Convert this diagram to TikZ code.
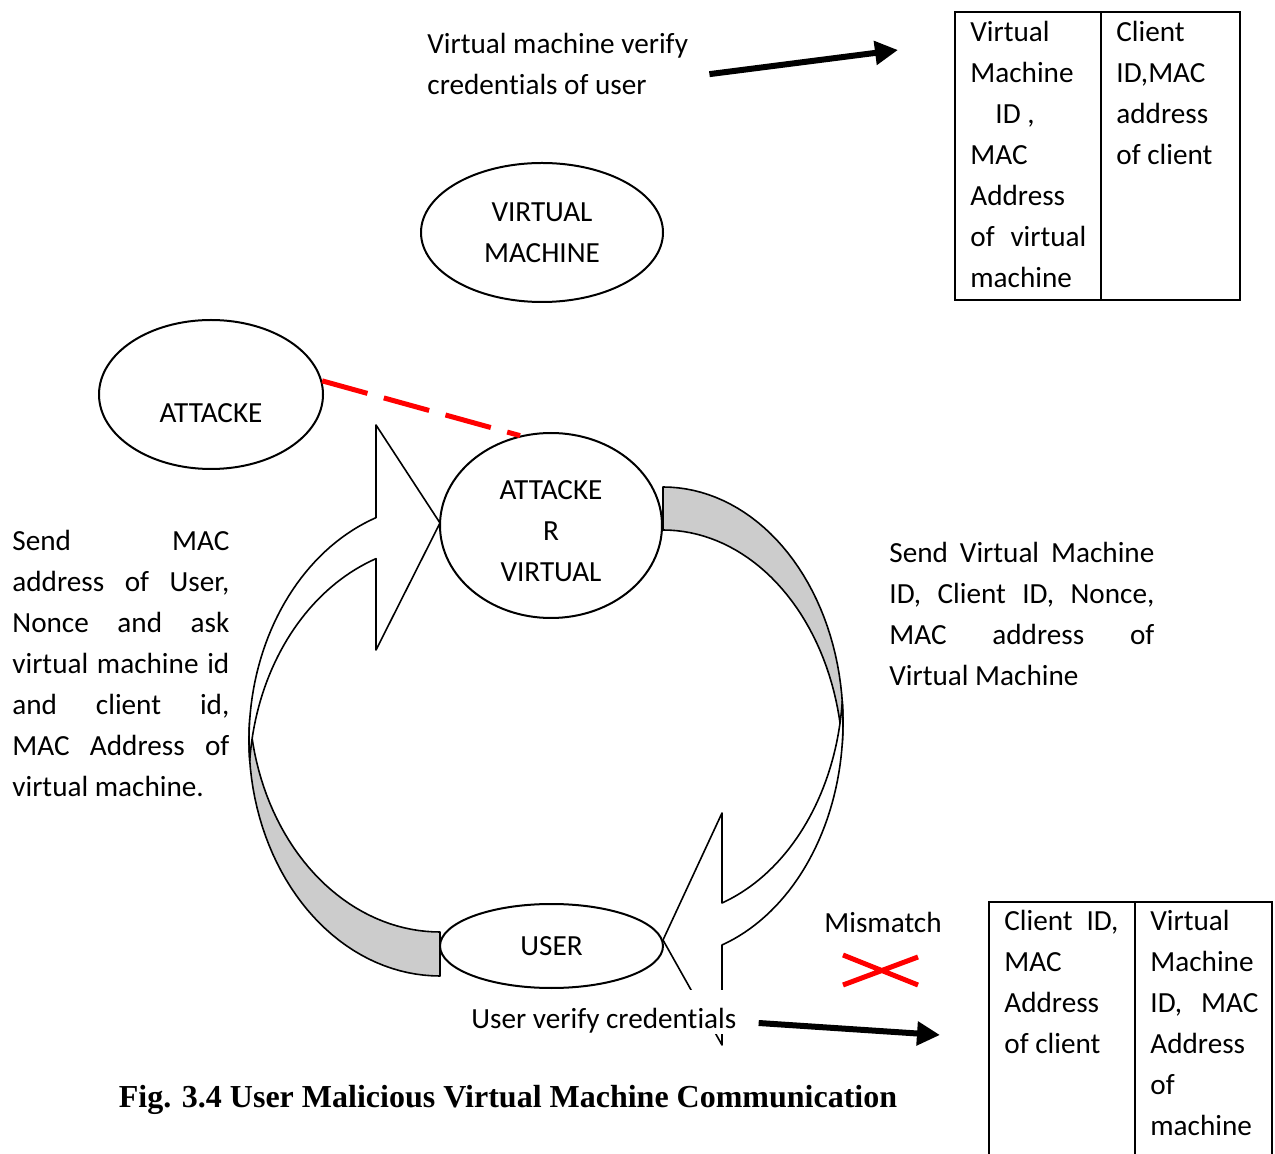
\documentclass[tikz,border=0pt]{standalone}
\usepackage{fontspec}
\setmainfont{Carlito}[Ligatures=NoCommon]
\newfontfamily\capfont{Liberation Serif}
\usetikzlibrary{shapes,arrows.meta,positioning}
\definecolor{bandGray}{HTML}{CCCCCC}
\definecolor{mmRed}{HTML}{FF0000}
\newcommand{\jl}[2]{\makebox[#1][s]{#2}}

\begin{document}
\begin{tikzpicture}[x=0.5pt, y=-0.5pt,
    every node/.style={font=\fontsize{14.6pt}{20.5pt}\selectfont, inner sep=0pt},
    oval/.style={draw, ellipse, line width=1pt, fill=white, align=center},
    txt/.style={anchor=north west, align=left},
    bigarr/.style={-{Triangle[length=11.5pt, width=11.5pt]}, line width=3pt},
    attline/.style={mmRed, line width=2.5pt, dash pattern=on 23.5pt off 8.5pt},
    xmark/.style={mmRed, line width=2.5pt},
    frontface/.style={draw, line width=0.8pt, fill=white, line join=round},
    backface/.style={draw, line width=0.8pt, fill=bandGray, line join=round},
    tbl/.style={line width=1pt},
  ]
  \useasboundingbox (0,0) rectangle (1275,1154);

  % Left curved arrow (up to attacker VM)
  \path[backface] plot[domain=90:185.35, samples=40, variable=\t] ({440+191*cos(\t)}, {740+236*sin(\t)})
    -- plot[domain=174.65:90, samples=40, variable=\t] ({440+191*cos(\t)}, {696+236*sin(\t)}) -- cycle;
  \path[frontface] plot[domain=175.02:250.43, samples=40, variable=\t] ({440+191*cos(\t)}, {740+236*sin(\t)})
    -- (376,425) -- (440,523) -- (376,650)
    -- plot[domain=250.43:184.98, samples=40, variable=\t] ({440+191*cos(\t)}, {781+236*sin(\t)}) -- cycle;

  % Right curved arrow (down to user)
  \path[backface] plot[domain=270:365.24, samples=40, variable=\t] ({663+180*cos(\t)}, {722.5+235.5*sin(\t)})
    -- plot[domain=354.76:270, samples=40, variable=\t] ({663+180*cos(\t)}, {765.5+235.5*sin(\t)}) -- cycle;
  \path[frontface] plot[domain=-5.12:70.87, samples=40, variable=\t] ({663+180*cos(\t)}, {722.5+235.5*sin(\t)})
    -- (722,1045) -- (663,940) -- (722,813)
    -- plot[domain=70.87:5.12, samples=40, variable=\t] ({663+180*cos(\t)}, {680.5+235.5*sin(\t)}) -- cycle;

  % Ellipses
  \node[oval, minimum width=121pt, minimum height=69.5pt] (vm) at (542,232.5) {VIRTUAL\\MACHINE};
  \node[oval, minimum width=112pt, minimum height=74.5pt, text height=28.4pt, text depth=0pt] (att) at (211,394.5) {ATTACKE};
  \node[oval, minimum width=111pt, minimum height=92.5pt, text height=56.2pt, text depth=0pt] (attv) at (551,525.5) {ATTACKE\\R\\VIRTUAL};
  \node[oval, minimum width=111.5pt, minimum height=42pt] (usr) at (551.5,946) {USER};

  \draw[attline] (att.7) -- (attv.109);

  % Side texts
  \node[txt] (vmtxt) at (427,33) {Virtual machine verify\\credentials of user};
  \node[txt] (lefttxt) at (12,530) {\jl{108.5pt}{Send MAC}\\\jl{108.5pt}{address of User,}\\
    \jl{108.5pt}{Nonce and ask}\\\jl{108.5pt}{virtual machine id}\\\jl{108.5pt}{and client id,}\\
    \jl{108.5pt}{MAC Address of}\\virtual machine.};
  \node[txt] (righttxt) at (889,542) {\jl{132.5pt}{Send Virtual Machine}\\\jl{132.5pt}{ID, Client ID, Nonce,}\\
    \jl{132.5pt}{MAC address of}\\Virtual Machine};

  % Top table
  \draw[tbl] (955,12) rectangle (1240,300) (1101,12) -- (1101,300);
  \node[txt] (vmcell) at (970,21) {Virtual\\Machine\\\hspace*{12.5pt}ID ,\\MAC\\Address\\\jl{58pt}{of virtual}\\machine};
  \node[txt] (clcell) at (1116,21) {Client\\ID,MAC\\address\\of client};

  % Bottom table
  \draw[tbl] (989,1154) -- (989,902) -- (1272,902) -- (1272,1154) (1135,902) -- (1135,1154);
  \node[txt] (clcell2) at (1004,910) {\jl{57pt}{Client ID,}\\MAC\\Address\\of client};
  \node[txt] (vmcell2) at (1150,910) {Virtual\\Machine\\\jl{54pt}{ID, MAC}\\Address\\of\\machine};

  % Mismatch
  \node (mis) at (883,922) {Mismatch};
  \draw[xmark] (843,955) -- (918,985) (843,985) -- (918,957);

  \node[fill=white, anchor=base west, text height=16pt, text depth=0pt, inner xsep=2pt, inner ysep=3pt]
    (usrtxt) at (467,1028) {User verify credentials};

  % Arrows to tables
  \coordinate (tbl1in) at (898,50);
  \coordinate (tbl2in) at (940,1035);
  \draw[bigarr] ([shift={(21,10)}]vmtxt.east) -- (tbl1in);
  \draw[bigarr] ([shift={(18,11)}]usrtxt.east) -- (tbl2in);

  % Caption
  \node[font=\capfont\bfseries\fontsize{16pt}{19pt}\selectfont] (cap) at (508,1100)
    {Fig. 3.4 User Malicious Virtual Machine Communication};
\end{tikzpicture}
\end{document}
